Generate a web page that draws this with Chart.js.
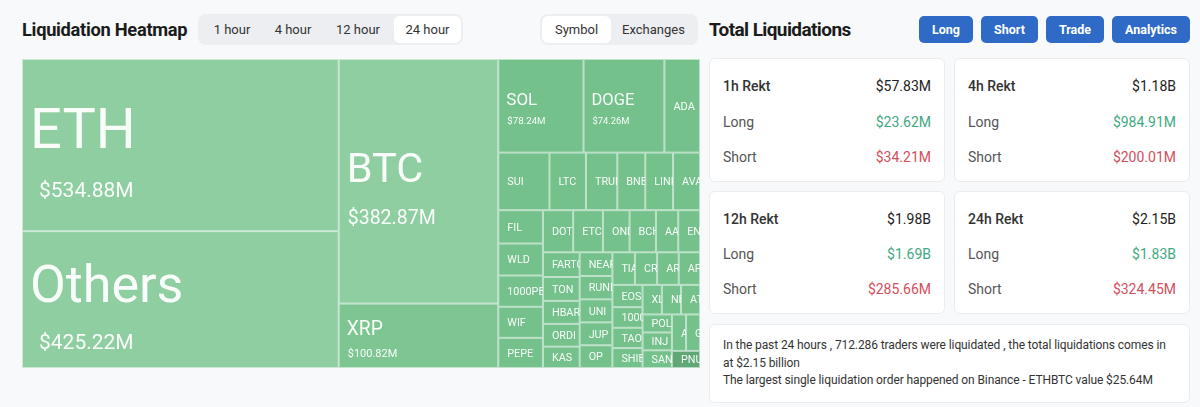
<!DOCTYPE html>
<html>
<head>
<meta charset="utf-8">
<title>Liquidation Heatmap</title>
<script src="https://cdn.jsdelivr.net/npm/chart.js@4.4.1/dist/chart.umd.min.js"></script>
<style>
  body { margin: 0; width: 1200px; height: 407px; overflow: hidden; position: relative;
         background: #f8f9fa; font-family: Roboto, "Noto Sans", sans-serif; color: #222; }
  .abs { position: absolute; }
  .title { font-weight: 700; font-size: 18.3px; letter-spacing: -0.3px; color: #1b1b1b; }
  .seg { background: #eceef1; border-radius: 8px; display: flex; align-items: center; }
  .seg span { display: block; text-align: center; font-size: 13px; color: #333; line-height: 27px; border-radius: 6px; }
  .seg span.on { background: #fff; }
  .btn { background: #2f6bc6; color: #fff; border-radius: 5px; font-size: 12.5px; font-weight: 700;
         text-align: center; line-height: 27px; height: 27px; top: 16px; }
  .card { background: #fff; border: 1px solid #eaecef; border-radius: 6px; box-sizing: border-box; }
  .row { position: absolute; left: 13px; right: 13px; display: flex; justify-content: space-between;
         font-size: 14px; line-height: 18px; }
  .row .k { color: #555; }
  .row.h .k { color: #333; font-weight: 500; }
  .row.h .v { color: #222; }
  .g { color: #3fa97f; }
  .r { color: #d24f5c; }
  .note { font-size: 12px; letter-spacing: -0.1px; line-height: 17.6px; color: #333; padding: 12px 13px; }
</style>
</head>
<body>

<div class="abs title" style="left:22px; top:19px;">Liquidation Heatmap</div>
<div class="abs seg" style="left:198px; top:14px; width:265px; height:31px;">
  <span style="width:64px; margin-left:2px;">1 hour</span>
  <span style="width:58px;">4 hour</span>
  <span style="width:72px;">12 hour</span>
  <span class="on" style="width:67px;">24 hour</span>
</div>
<div class="abs seg" style="left:540px; top:14px; width:158px; height:31px;">
  <span class="on" style="width:69px; margin-left:2px;">Symbol</span>
  <span style="width:85px;">Exchanges</span>
</div>

<div class="abs" style="left:22px; top:59px; width:678px; height:309px;">
  <canvas id="heatmap" width="678" height="309"></canvas>
</div>

<div class="abs title" style="left:709px; top:18px; font-size:19px; letter-spacing:-0.6px;">Total Liquidations</div>
<div class="abs btn" style="left:919px; width:54px;">Long</div>
<div class="abs btn" style="left:981px; width:57px;">Short</div>
<div class="abs btn" style="left:1046px; width:58px;">Trade</div>
<div class="abs btn" style="left:1112px; width:78px;">Analytics</div>

<div class="abs card" style="left:709px; top:58px; width:236px; height:124px;">
  <div class="row h" style="top:18px;"><span class="k">1h Rekt</span><span class="v">$57.83M</span></div>
  <div class="row" style="top:54px;"><span class="k">Long</span><span class="g">$23.62M</span></div>
  <div class="row" style="top:89px;"><span class="k">Short</span><span class="r">$34.21M</span></div>
</div>
<div class="abs card" style="left:954px; top:58px; width:236px; height:124px;">
  <div class="row h" style="top:18px;"><span class="k">4h Rekt</span><span class="v">$1.18B</span></div>
  <div class="row" style="top:54px;"><span class="k">Long</span><span class="g">$984.91M</span></div>
  <div class="row" style="top:89px;"><span class="k">Short</span><span class="r">$200.01M</span></div>
</div>
<div class="abs card" style="left:709px; top:191px; width:236px; height:123px;">
  <div class="row h" style="top:18px;"><span class="k">12h Rekt</span><span class="v">$1.98B</span></div>
  <div class="row" style="top:53px;"><span class="k">Long</span><span class="g">$1.69B</span></div>
  <div class="row" style="top:88px;"><span class="k">Short</span><span class="r">$285.66M</span></div>
</div>
<div class="abs card" style="left:954px; top:191px; width:236px; height:123px;">
  <div class="row h" style="top:18px;"><span class="k">24h Rekt</span><span class="v">$2.15B</span></div>
  <div class="row" style="top:53px;"><span class="k">Long</span><span class="g">$1.83B</span></div>
  <div class="row" style="top:88px;"><span class="k">Short</span><span class="r">$324.45M</span></div>
</div>
<div class="abs card note" style="left:709px; top:324px; width:481px; height:79px;">
  In the past 24 hours , 712.286 traders were liquidated , the total liquidations comes in at $2.15 billion<br>
  The largest single liquidation order happened on Binance - ETHBTC value $25.64M
</div>

<script>
// coins in the heatmap, biggest first (values in $M)
const coins = ["ETH", "Others", "BTC", "XRP", "SOL", "DOGE", "ADA", "SUI", "LTC", "TRUMP", "BNB", "LINK", "AVAX",
  "FIL", "WLD", "1000PEPE", "WIF", "PEPE", "DOT", "ETC", "ONDO", "BCH", "AAVE", "ENA",
  "FARTCOIN", "TON", "HBAR", "ORDI", "KAS", "NEAR", "RUNE", "UNI", "JUP", "OP",
  "TIA", "CRV", "ARB", "APT", "EOS", "1000BONK", "TAO", "SHIB", "XLM", "NEIRO", "ATOM",
  "POL", "INJ", "SAND", "APE", "GALA", "PNUT"];
const liqValues = [534.88, 425.22, 382.87, 100.82, 78.24, 74.26, 32.7, 28.9, 20.6, 17.7, 15.8, 15.7, 15.2,
  14.6, 14.0, 13.7, 13.6, 13.2, 12.5, 12.3, 11.0, 10.9, 9.2, 9.0,
  8.9, 8.6, 8.3, 8.2, 7.7, 7.6, 7.5, 7.4, 7.35, 7.3,
  7.2, 7.1, 6.9, 6.8, 6.6, 6.1, 6.0, 5.9, 5.6, 5.55, 5.5,
  5.2, 5.15, 5.1, 5.05, 5.0, 4.7];
const cellColors = coins.map(c => {
  if (c === "ETH" || c === "Others" || c === "BTC") return "#8fcea1";
  if (c === "XRP") return "#7dc692";
  if (c === "PNUT") return "#5fa875";
  return "#74c18b";
});

const W = 678, H = 309;

// squarified layout (golden ratio), same approach as d3.treemapSquarify
function squarify(values, x0, y0, x1, y1) {
  const ratio = (1 + Math.sqrt(5)) / 2;
  const out = [];
  let value = values.reduce((a, b) => a + b, 0);
  let i0 = 0, i1 = 0;
  const n = values.length;
  while (i0 < n) {
    const dx = x1 - x0, dy = y1 - y0;
    let sum = values[i1++];
    let minV = sum, maxV = sum;
    const alpha = Math.max(dy / dx, dx / dy) / (value * ratio);
    let beta = sum * sum * alpha;
    let minRatio = Math.max(maxV / beta, beta / minV);
    for (; i1 < n; ++i1) {
      const v = values[i1];
      sum += v;
      if (v < minV) minV = v;
      if (v > maxV) maxV = v;
      beta = sum * sum * alpha;
      const newRatio = Math.max(maxV / beta, beta / minV);
      if (newRatio > minRatio) { sum -= v; break; }
      minRatio = newRatio;
    }
    if (dx < dy) {
      const ny = y0 + dy * sum / value;
      let x = x0;
      for (let i = i0; i < i1; i++) {
        const w = dx * values[i] / sum;
        out[i] = { x0: x, y0: y0, x1: x + w, y1: ny };
        x += w;
      }
      y0 = ny;
    } else {
      const nx = x0 + dx * sum / value;
      let y = y0;
      for (let i = i0; i < i1; i++) {
        const h = dy * values[i] / sum;
        out[i] = { x0: x0, y0: y, x1: nx, y1: y + h };
        y += h;
      }
      x0 = nx;
    }
    value -= sum;
    i0 = i1;
  }
  return out;
}

class Cell extends Chart.Element {
  draw(ctx) {
    const { x, y, w, h, options } = this;
    ctx.save();
    ctx.fillStyle = options.backgroundColor;
    ctx.fillRect(x, y, w, h);
    ctx.strokeStyle = options.borderColor;
    ctx.lineWidth = options.borderWidth;
    ctx.strokeRect(x + 0.5, y + 0.5, w - 1, h - 1);
    ctx.restore();
  }
}
Cell.id = "cell";
Cell.defaults = { backgroundColor: "#74c18b", borderColor: "rgba(255,255,255,0.55)", borderWidth: 1 };

function labelSize(w, h) {
  const s = Math.sqrt(w * h);
  if (s > 150) return Math.min(0.25 * s, 0.26 * w, 56);
  return Math.max(10.8, 0.19 * s);
}

function drawLabel(ctx, el, name, value) {
  const { x, y, w, h } = el;
  const fs = labelSize(w, h);
  const cy = y + h / 2;
  ctx.save();
  ctx.beginPath();
  ctx.rect(x, y, w, h);
  ctx.clip();
  ctx.fillStyle = "rgba(255,255,255,0.95)";
  ctx.textAlign = "left";
  ctx.textBaseline = "alphabetic";
  ctx.font = fs.toFixed(1) + "px Roboto";
  if (w > 60 && h > 50) {
    const vf = fs >= 30 ? Math.min(21, fs * 0.47) : fs * 0.57;
    const sep = fs * 0.7 + vf * 1.05;
    const lc = cy - (0.25 * sep + 1.5);
    ctx.fillText(name, x + 8, lc + fs * 0.355);
    ctx.font = vf.toFixed(1) + "px Roboto";
    ctx.fillText("$" + value.toFixed(2) + "M", x + (fs > 45 ? 17 : 9), lc + sep + vf * 0.355);
  } else {
    ctx.fillText(name, x + 9, cy + fs * 0.355);
  }
  ctx.restore();
}

class TreemapController extends Chart.DatasetController {
  update(mode) {
    const meta = this._cachedMeta;
    this.updateElements(meta.data, 0, meta.data.length, mode);
  }
  updateElements(cells, start, count, mode) {
    const { xScale, yScale } = this._cachedMeta;
    const boxes = squarify(this.getDataset().data, 0, 0, W, H);
    for (let i = start; i < start + count; i++) {
      const b = boxes[i];
      const left = xScale.getPixelForValue(b.x0), right = xScale.getPixelForValue(b.x1);
      const top = yScale.getPixelForValue(b.y0), bottom = yScale.getPixelForValue(b.y1);
      const options = this.resolveDataElementOptions(i, mode);
      this.updateElement(cells[i], i, {
        x: Math.min(left, right), y: Math.min(top, bottom),
        w: Math.abs(right - left), h: Math.abs(bottom - top), options
      }, mode);
    }
  }
  draw() {
    const ctx = this.chart.ctx;
    const meta = this._cachedMeta;
    const data = this.getDataset().data;
    meta.data.forEach(el => el.draw(ctx));
    meta.data.forEach((el, i) => drawLabel(ctx, el, coins[i], data[i]));
  }
}
TreemapController.id = "treemap";
TreemapController.defaults = { dataElementType: "cell", datasetElementType: false };

Chart.register(Cell, TreemapController);

new Chart(document.getElementById("heatmap"), {
  type: "treemap",
  data: {
    datasets: [{
      label: "Liquidations",
      data: liqValues,
      backgroundColor: cellColors
    }]
  },
  options: {
    responsive: false,
    animation: false,
    events: [],
    layout: { padding: 0 },
    scales: {
      x: { type: "linear", min: 0, max: W, display: false },
      y: { type: "linear", min: 0, max: H, reverse: true, display: false }
    },
    plugins: { legend: { display: false }, tooltip: { enabled: false } }
  }
});
</script>
</body>
</html>
